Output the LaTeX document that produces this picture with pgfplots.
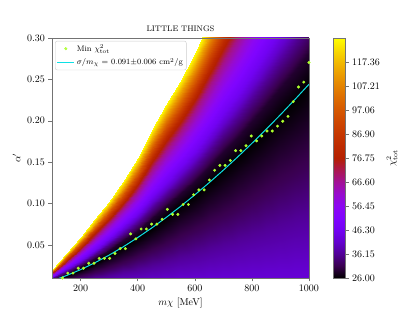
\documentclass[border=0pt]{standalone}
\usepackage{pgfplots}
\pgfplotsset{compat=1.18}
\definecolor{dotgreen}{rgb}{0.68,1,0.18}
\definecolor{fitcyan}{rgb}{0.05,0.88,0.9}
\begin{document}
\begin{tikzpicture}
\path[use as bounding box] (-52pt,-34pt) rectangle (363pt,278pt);
\begin{axis}[
  scale only axis, width=257pt, height=240pt,
  xmin=100, xmax=1000, ymin=0.01, ymax=0.30,
  xtick={200,400,600,800,1000},
  ytick={0.05,0.10,0.15,0.20,0.25,0.30},
  /pgf/number format/1000 sep={},
  yticklabel style={/pgf/number format/.cd, fixed, fixed zerofill, precision=2},
  tick align=outside, xtick pos=bottom, ytick pos=left,
  major tick length=3.5pt,
  axis line style={black!55}, every tick/.style={black!55},
  axis on top,
  title={\footnotesize LITTLE THINGS},
  title style={yshift=-3pt},
  xlabel={$m\chi$ [MeV]}, ylabel={$\alpha'$},
  colormap={gnuplot}{rgb=(0,0,0) rgb=(0.2236,0.0001,0.309) rgb=(0.3162,0.001,0.5878) rgb=(0.3873,0.0034,0.809) rgb=(0.4472,0.008,0.9511) rgb=(0.5,0.0156,1) rgb=(0.5477,0.027,0.9511) rgb=(0.5916,0.0429,0.809) rgb=(0.6325,0.064,0.5878) rgb=(0.6708,0.0911,0.309) rgb=(0.7071,0.125,0) rgb=(0.7416,0.1664,0) rgb=(0.7746,0.216,0) rgb=(0.8062,0.2746,0) rgb=(0.8367,0.343,0) rgb=(0.866,0.4219,0) rgb=(0.8944,0.512,0) rgb=(0.922,0.6141,0) rgb=(0.9487,0.729,0) rgb=(0.9747,0.8574,0) rgb=(1,1,0)},
  point meta min=26, point meta max=127.5,
  colorbar,
  colorbar style={
    at={(parent axis.north east)}, anchor=north west, xshift=16pt,
    width=12pt,
    ytick={26,36.15,46.30,56.45,66.60,76.75,86.90,97.06,107.21,117.36},
    yticklabels={26.00,36.15,46.30,56.45,66.60,76.75,86.90,97.06,107.21,117.36},
    ytick pos=right, yticklabel pos=right, tick align=outside, major tick length=3pt,
    axis line style={black!55}, every tick/.style={black!55},
    ylabel={$\chi^2_{\rm tot}$}, ylabel near ticks,
  },
  legend cell align=left,
  legend style={at={(0.012,0.988)}, anchor=north west, font=\footnotesize,
    draw=black!20, rounded corners=2pt, fill=white, fill opacity=0.85, text opacity=1,
    inner sep=1.5pt, row sep=1.5pt},
]
\addplot[surf, shader=interp, forget plot, mesh/rows=19, mesh/cols=15, point meta=\thisrow{c}]
table[x=m, y=a] {
m a c
100 0 43
100 0.0021 37.5
100 0.0041 31.5
100 0.0058 28
100 0.0068 26
100 0.0081 29
100 0.0095 36
100 0.0108 45
100 0.0121 52
100 0.0134 60
100 0.0147 68
100 0.0161 80
100 0.0174 96
100 0.0187 112
100 0.0200 127
150 0 43
150 0.0038 37.5
150 0.0077 31.5
150 0.0109 28
150 0.0128 26
150 0.0154 29
150 0.0180 36
150 0.0206 45
150 0.0232 52
150 0.0258 60
150 0.0284 68
150 0.0310 80
150 0.0336 96
150 0.0362 112
150 0.0388 127
200 0 43
200 0.0060 37.5
200 0.0120 31.5
200 0.0170 28
200 0.0201 26
200 0.0240 29
200 0.0280 36
200 0.0320 45
200 0.0360 52
200 0.0399 60
200 0.0439 68
200 0.0479 80
200 0.0519 96
200 0.0558 112
200 0.0598 127
250 0 43
250 0.0085 37.5
250 0.0170 31.5
250 0.0241 28
250 0.0284 26
250 0.0336 29
250 0.0389 36
250 0.0442 45
250 0.0495 52
250 0.0547 60
250 0.0600 68
250 0.0653 80
250 0.0706 96
250 0.0758 112
250 0.0811 127
300 0 43
300 0.0113 37.5
300 0.0226 31.5
300 0.0320 28
300 0.0376 26
300 0.0441 29
300 0.0505 36
300 0.0570 45
300 0.0634 52
300 0.0699 60
300 0.0763 68
300 0.0828 80
300 0.0892 96
300 0.0957 112
300 0.1021 127
350 0 43
350 0.0143 37.5
350 0.0287 31.5
350 0.0406 28
350 0.0478 26
350 0.0556 29
350 0.0634 36
350 0.0712 45
350 0.0790 52
350 0.0868 60
350 0.0946 68
350 0.1024 80
350 0.1102 96
350 0.1180 112
350 0.1258 127
400 0 43
400 0.0177 37.5
400 0.0353 31.5
400 0.0500 28
400 0.0588 26
400 0.0684 29
400 0.0780 36
400 0.0875 45
400 0.0971 52
400 0.1066 60
400 0.1162 68
400 0.1257 80
400 0.1353 96
400 0.1448 112
400 0.1544 127
450 0 43
450 0.0212 37.5
450 0.0424 31.5
450 0.0600 28
450 0.0706 26
450 0.0824 29
450 0.0943 36
450 0.1061 45
450 0.1180 52
450 0.1298 60
450 0.1416 68
450 0.1535 80
450 0.1653 96
450 0.1772 112
450 0.1890 127
500 0 43
500 0.0250 37.5
500 0.0499 31.5
500 0.0707 28
500 0.0832 26
500 0.0968 29
500 0.1105 36
500 0.1241 45
500 0.1378 52
500 0.1514 60
500 0.1650 68
500 0.1787 80
500 0.1923 96
500 0.2060 112
500 0.2196 127
550 0 43
550 0.0289 37.5
550 0.0579 31.5
550 0.0820 28
550 0.0965 26
550 0.1116 29
550 0.1266 36
550 0.1417 45
550 0.1568 52
550 0.1718 60
550 0.1869 68
550 0.2020 80
550 0.2171 96
550 0.2321 112
550 0.2472 127
600 0 43
600 0.0331 37.5
600 0.0663 31.5
600 0.0939 28
600 0.1104 26
600 0.1275 29
600 0.1446 36
600 0.1616 45
600 0.1787 52
600 0.1957 60
600 0.2128 68
600 0.2298 80
600 0.2469 96
600 0.2639 112
600 0.2810 127
650 0 43
650 0.0375 37.5
650 0.0750 31.5
650 0.1063 28
650 0.1250 26
650 0.1444 29
650 0.1638 36
650 0.1832 45
650 0.2026 52
650 0.2220 60
650 0.2414 68
650 0.2608 80
650 0.2802 96
650 0.2996 112
650 0.3190 127
700 0 43
700 0.0421 37.5
700 0.0842 31.5
700 0.1193 28
700 0.1403 26
700 0.1621 29
700 0.1838 36
700 0.2056 45
700 0.2273 52
700 0.2491 60
700 0.2708 68
700 0.2926 80
700 0.3143 96
700 0.3361 112
700 0.3578 127
750 0 43
750 0.0469 37.5
750 0.0937 31.5
750 0.1327 28
750 0.1562 26
750 0.1804 29
750 0.2046 36
750 0.2288 45
750 0.2530 52
750 0.2772 60
750 0.3014 68
750 0.3256 80
750 0.3498 96
750 0.3740 112
750 0.3982 127
800 0 43
800 0.0518 37.5
800 0.1036 31.5
800 0.1467 28
800 0.1726 26
800 0.1994 29
800 0.2262 36
800 0.2529 45
800 0.2797 52
800 0.3064 60
800 0.3332 68
800 0.3599 80
800 0.3867 96
800 0.4134 112
800 0.4402 127
850 0 43
850 0.0569 37.5
850 0.1138 31.5
850 0.1612 28
850 0.1897 26
850 0.2191 29
850 0.2485 36
850 0.2779 45
850 0.3073 52
850 0.3367 60
850 0.3661 68
850 0.3955 80
850 0.4249 96
850 0.4543 112
850 0.4837 127
900 0 43
900 0.0622 37.5
900 0.1244 31.5
900 0.1762 28
900 0.2073 26
900 0.2394 29
900 0.2715 36
900 0.3037 45
900 0.3358 52
900 0.3679 60
900 0.4001 68
900 0.4322 80
900 0.4643 96
900 0.4965 112
900 0.5286 127
950 0 43
950 0.0676 37.5
950 0.1353 31.5
950 0.1916 28
950 0.2254 26
950 0.2604 29
950 0.2953 36
950 0.3303 45
950 0.3652 52
950 0.4002 60
950 0.4351 68
950 0.4701 80
950 0.5050 96
950 0.5400 112
950 0.5749 127
1000 0 43
1000 0.0732 37.5
1000 0.1465 31.5
1000 0.2075 28
1000 0.2441 26
1000 0.2820 29
1000 0.3198 36
1000 0.3577 45
1000 0.3955 52
1000 0.4334 60
1000 0.4712 68
1000 0.5091 80
1000 0.5469 96
1000 0.5848 112
1000 0.6226 127
};
\addplot[only marks, mark=*, mark size=1.3pt, color=dotgreen] coordinates {
(136.73,0.0100) (155.10,0.0159) (173.47,0.0159) (191.84,0.0218) (210.20,0.0218)
(228.57,0.0278) (246.94,0.0278) (265.31,0.0337) (283.67,0.0337) (302.04,0.0337)
(320.41,0.0396) (338.78,0.0455) (357.14,0.0455) (375.51,0.0633) (393.88,0.0573)
(412.24,0.0692) (430.61,0.0692) (448.98,0.0751) (467.35,0.0751) (485.71,0.0810)
(504.08,0.0929) (522.45,0.0869) (540.82,0.0869) (559.18,0.0988) (577.55,0.0988)
(595.92,0.1106) (614.29,0.1165) (632.65,0.1165) (651.02,0.1284) (669.39,0.1402)
(687.76,0.1461) (706.12,0.1461) (724.49,0.1520) (742.86,0.1639) (761.22,0.1639)
(779.59,0.1698) (797.96,0.1816) (816.33,0.1757) (834.69,0.1816) (853.06,0.1876)
(871.43,0.1876) (889.80,0.1935) (908.16,0.1994) (926.53,0.2053) (944.90,0.2231)
(963.27,0.2408) (981.63,0.2467) (1000.00,0.2704)
};
\addlegendentry{Min $\chi^2_{\rm tot}$}
\addplot[fitcyan, line width=1pt] coordinates {
(110,0.00792) (120,0.00907) (150,0.01283) (200,0.02005) (250,0.02836) (300,0.03763)
(350,0.04781) (400,0.05884) (450,0.0706) (500,0.08319) (550,0.09648)
(600,0.11044) (650,0.12504) (700,0.14030) (750,0.15617) (800,0.17264)
(850,0.18969) (900,0.20728) (950,0.22544) (1000,0.24414)
};
\addlegendentry{$\sigma/m_\chi$ = 0.091$\pm$0.006 cm$^2$/g}
\end{axis}
\end{tikzpicture}
\end{document}
